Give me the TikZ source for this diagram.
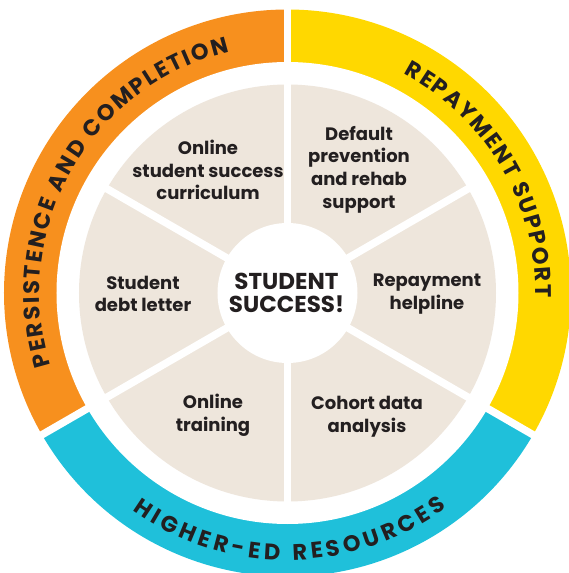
\documentclass[tikz,border=0pt]{standalone}
\usepackage{fontspec}
\setmainfont{Poppins}
\usetikzlibrary{decorations.text}
\definecolor{ringorange}{HTML}{F7901E}
\definecolor{ringyellow}{HTML}{FFD800}
\definecolor{ringblue}{HTML}{1FC0DA}
\definecolor{wedgebeige}{HTML}{EEE6DC}
\definecolor{inkdark}{HTML}{231F20}
\begin{document}
\begin{tikzpicture}[x=1pt,y=1pt,
    wedgelabel/.style={font=\bfseries\fontsize{18}{22.7}\selectfont,text=inkdark,align=center},
    divider/.style={draw=white,line width=7.5pt},
    ringtext/.style={decorate,decoration={text along path,text align={fit to path},
        text={|\bfseries\fontsize{22.5}{22.5}\selectfont\color{inkdark}|#1}}}]
    \useasboundingbox (-287.5,-280) rectangle (281.5,293);
    % outer ring
    \fill[ringorange] (0,0) -- (90:283.5) arc (90:210:283.5pt) -- cycle;
    \fill[ringyellow] (0,0) -- (-30:283.5) arc (-30:90:283.5pt) -- cycle;
    \fill[ringblue] (0,0) -- (210:283.5) arc (210:330:283.5pt) -- cycle;
    \fill[white] (0,0) circle (231pt);
    \fill[wedgebeige] (0,0) circle (208.5pt);
    \foreach \a in {90,210,-30} \draw[divider] (0,0) -- (\a:292);
    \foreach \a in {30,150,-90} \draw[divider] (0,0) -- (\a:215);
    \fill[white] (0,0) circle (70pt);
    % ring texts
    \path[ringtext={PERSISTENCE AND COMPLETION}] (197:248) arc (197:103.5:248pt);
    \path[ringtext={REPAYMENT SUPPORT}] (62:248) arc (62:-1:248pt);
    \path[ringtext={HIGHER-ED RESOURCES}] (234.5:267) arc (234.5:306.5:267pt);
    % wedge labels
    \node[wedgelabel,font=\bfseries\fontsize{23}{23}\selectfont] (hub) at (-1,0) {STUDENT\\SUCCESS!};
    \node[wedgelabel] (curriculum) at (-79.5,123) {Online\\student success\\curriculum};
    \node[wedgelabel] (default) at (71.5,123.5) {Default\\prevention\\and rehab\\support};
    \node[wedgelabel] (helpline) at (139.5,-1) {Repayment\\helpline};
    \node[wedgelabel] (cohort) at (79.5,-123.7) {Cohort data\\analysis};
    \node[wedgelabel] (training) at (-74.5,-122.6) {Online\\training};
    \node[wedgelabel] (debtletter) at (-144.5,-1) {Student\\debt letter};
\end{tikzpicture}
\end{document}
